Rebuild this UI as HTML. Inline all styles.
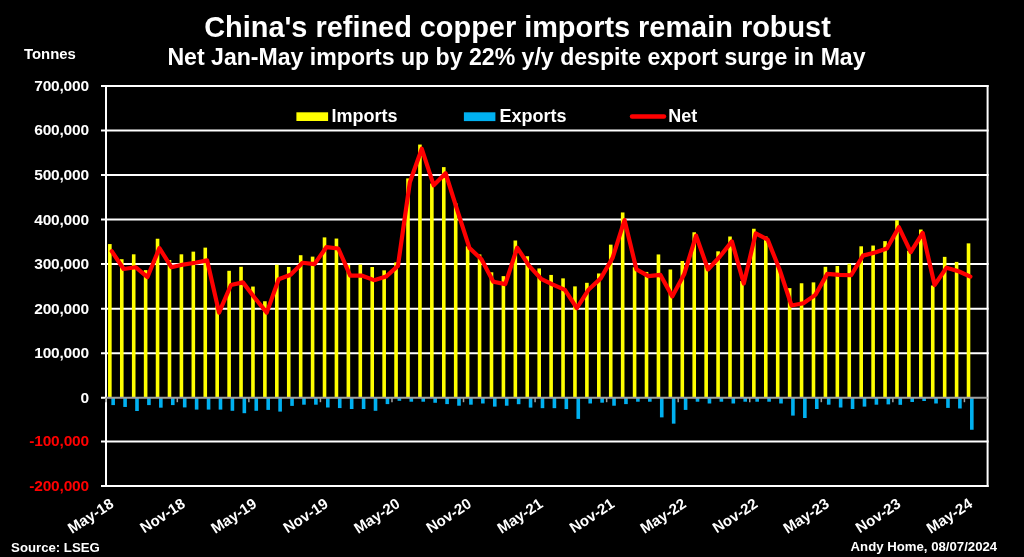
<!DOCTYPE html>
<html><head><meta charset="utf-8"><style>
html,body{margin:0;padding:0;background:#000;width:1024px;height:557px;overflow:hidden}
svg{display:block;will-change:transform}
#w{width:1024px;height:557px}
</style></head><body><div id="w">
<svg width="1024" height="557" viewBox="0 0 1024 557" font-family='"Liberation Sans", sans-serif' font-weight="bold">
<rect x="0" y="0" width="1024" height="557" fill="#000"/>
<text x="517.5" y="36.7" fill="#fff" font-size="28.9" text-anchor="middle">China's refined copper imports remain robust</text>
<text x="516.5" y="64.8" fill="#fff" font-size="23.1" text-anchor="middle">Net Jan-May imports up by 22% y/y despite export surge in May</text>
<text x="24" y="59" fill="#fff" font-size="14.9">Tonnes</text>
<line x1="101" y1="85.90" x2="988.60" y2="85.90" stroke="#fff" stroke-width="2"/>
<text x="88.9" y="90.90" fill="#fff" font-size="15.5" letter-spacing="-0.2" text-anchor="end">700,000</text>
<line x1="101" y1="130.45" x2="988.60" y2="130.45" stroke="#fff" stroke-width="2"/>
<text x="88.9" y="135.45" fill="#fff" font-size="15.5" letter-spacing="-0.2" text-anchor="end">600,000</text>
<line x1="101" y1="175.00" x2="988.60" y2="175.00" stroke="#fff" stroke-width="2"/>
<text x="88.9" y="180.00" fill="#fff" font-size="15.5" letter-spacing="-0.2" text-anchor="end">500,000</text>
<line x1="101" y1="219.55" x2="988.60" y2="219.55" stroke="#fff" stroke-width="2"/>
<text x="88.9" y="224.55" fill="#fff" font-size="15.5" letter-spacing="-0.2" text-anchor="end">400,000</text>
<line x1="101" y1="264.10" x2="988.60" y2="264.10" stroke="#fff" stroke-width="2"/>
<text x="88.9" y="269.10" fill="#fff" font-size="15.5" letter-spacing="-0.2" text-anchor="end">300,000</text>
<line x1="101" y1="308.65" x2="988.60" y2="308.65" stroke="#fff" stroke-width="2"/>
<text x="88.9" y="313.65" fill="#fff" font-size="15.5" letter-spacing="-0.2" text-anchor="end">200,000</text>
<line x1="101" y1="353.20" x2="988.60" y2="353.20" stroke="#fff" stroke-width="2"/>
<text x="88.9" y="358.20" fill="#fff" font-size="15.5" letter-spacing="-0.2" text-anchor="end">100,000</text>
<line x1="101" y1="397.75" x2="106" y2="397.75" stroke="#fff" stroke-width="2"/>
<text x="88.9" y="402.75" fill="#fff" font-size="15.5" letter-spacing="-0.2" text-anchor="end">0</text>
<line x1="101" y1="441.40" x2="988.60" y2="441.40" stroke="#fff" stroke-width="2"/>
<text x="88.9" y="446.40" fill="#ff0000" font-size="15.5" letter-spacing="-0.2" text-anchor="end">-100,000</text>
<line x1="101" y1="486.00" x2="988.60" y2="486.00" stroke="#fff" stroke-width="2"/>
<text x="88.9" y="491.00" fill="#ff0000" font-size="15.5" letter-spacing="-0.2" text-anchor="end">-200,000</text>
<line x1="106" y1="84.90" x2="106" y2="487.00" stroke="#fff" stroke-width="2"/>
<line x1="987.60" y1="84.90" x2="987.60" y2="487.00" stroke="#fff" stroke-width="2"/>
<rect x="108.05" y="244.07" width="3.6" height="153.63" fill="#ffff00"/>
<rect x="111.35" y="397.70" width="3.6" height="7.39" fill="#00b0f0"/>
<rect x="119.98" y="259.21" width="3.6" height="138.49" fill="#ffff00"/>
<rect x="123.28" y="397.70" width="3.6" height="9.26" fill="#00b0f0"/>
<rect x="131.90" y="254.31" width="3.6" height="143.39" fill="#ffff00"/>
<rect x="135.20" y="397.70" width="3.6" height="13.31" fill="#00b0f0"/>
<rect x="143.83" y="270.12" width="3.6" height="127.58" fill="#ffff00"/>
<rect x="147.13" y="397.70" width="3.6" height="7.39" fill="#00b0f0"/>
<rect x="155.75" y="238.73" width="3.6" height="158.97" fill="#ffff00"/>
<rect x="159.05" y="397.70" width="3.6" height="9.97" fill="#00b0f0"/>
<rect x="167.68" y="260.10" width="3.6" height="137.60" fill="#ffff00"/>
<rect x="170.98" y="397.70" width="3.6" height="7.39" fill="#00b0f0"/>
<rect x="179.61" y="254.31" width="3.6" height="143.39" fill="#ffff00"/>
<rect x="182.91" y="397.70" width="3.6" height="9.71" fill="#00b0f0"/>
<rect x="191.53" y="251.64" width="3.6" height="146.06" fill="#ffff00"/>
<rect x="194.83" y="397.70" width="3.6" height="11.89" fill="#00b0f0"/>
<rect x="203.46" y="247.63" width="3.6" height="150.07" fill="#ffff00"/>
<rect x="206.76" y="397.70" width="3.6" height="11.89" fill="#00b0f0"/>
<rect x="215.38" y="305.52" width="3.6" height="92.18" fill="#ffff00"/>
<rect x="218.68" y="397.70" width="3.6" height="11.89" fill="#00b0f0"/>
<rect x="227.31" y="270.79" width="3.6" height="126.91" fill="#ffff00"/>
<rect x="230.61" y="397.70" width="3.6" height="13.09" fill="#00b0f0"/>
<rect x="239.24" y="266.78" width="3.6" height="130.92" fill="#ffff00"/>
<rect x="242.54" y="397.70" width="3.6" height="15.50" fill="#00b0f0"/>
<rect x="251.16" y="286.55" width="3.6" height="111.15" fill="#ffff00"/>
<rect x="254.46" y="397.70" width="3.6" height="13.09" fill="#00b0f0"/>
<rect x="263.09" y="301.25" width="3.6" height="96.45" fill="#ffff00"/>
<rect x="266.39" y="397.70" width="3.6" height="12.20" fill="#00b0f0"/>
<rect x="275.01" y="264.73" width="3.6" height="132.97" fill="#ffff00"/>
<rect x="278.31" y="397.70" width="3.6" height="13.89" fill="#00b0f0"/>
<rect x="286.94" y="266.92" width="3.6" height="130.78" fill="#ffff00"/>
<rect x="290.24" y="397.70" width="3.6" height="8.19" fill="#00b0f0"/>
<rect x="298.87" y="255.20" width="3.6" height="142.50" fill="#ffff00"/>
<rect x="302.17" y="397.70" width="3.6" height="6.99" fill="#00b0f0"/>
<rect x="310.79" y="256.63" width="3.6" height="141.07" fill="#ffff00"/>
<rect x="314.09" y="397.70" width="3.6" height="6.99" fill="#00b0f0"/>
<rect x="322.72" y="237.39" width="3.6" height="160.31" fill="#ffff00"/>
<rect x="326.02" y="397.70" width="3.6" height="9.80" fill="#00b0f0"/>
<rect x="334.64" y="238.55" width="3.6" height="159.15" fill="#ffff00"/>
<rect x="337.94" y="397.70" width="3.6" height="10.38" fill="#00b0f0"/>
<rect x="346.57" y="265.00" width="3.6" height="132.70" fill="#ffff00"/>
<rect x="349.87" y="397.70" width="3.6" height="11.31" fill="#00b0f0"/>
<rect x="358.50" y="264.56" width="3.6" height="133.14" fill="#ffff00"/>
<rect x="361.80" y="397.70" width="3.6" height="11.31" fill="#00b0f0"/>
<rect x="370.42" y="267.00" width="3.6" height="130.70" fill="#ffff00"/>
<rect x="373.72" y="397.70" width="3.6" height="13.09" fill="#00b0f0"/>
<rect x="382.35" y="270.34" width="3.6" height="127.36" fill="#ffff00"/>
<rect x="385.65" y="397.70" width="3.6" height="6.41" fill="#00b0f0"/>
<rect x="394.27" y="262.33" width="3.6" height="135.37" fill="#ffff00"/>
<rect x="397.57" y="397.70" width="3.6" height="3.12" fill="#00b0f0"/>
<rect x="406.20" y="178.39" width="3.6" height="219.31" fill="#ffff00"/>
<rect x="409.50" y="397.70" width="3.6" height="4.01" fill="#00b0f0"/>
<rect x="418.13" y="144.55" width="3.6" height="253.15" fill="#ffff00"/>
<rect x="421.43" y="397.70" width="3.6" height="4.01" fill="#00b0f0"/>
<rect x="430.05" y="183.51" width="3.6" height="214.19" fill="#ffff00"/>
<rect x="433.35" y="397.70" width="3.6" height="5.08" fill="#00b0f0"/>
<rect x="441.98" y="167.12" width="3.6" height="230.58" fill="#ffff00"/>
<rect x="445.28" y="397.70" width="3.6" height="6.41" fill="#00b0f0"/>
<rect x="453.90" y="203.28" width="3.6" height="194.42" fill="#ffff00"/>
<rect x="457.20" y="397.70" width="3.6" height="8.02" fill="#00b0f0"/>
<rect x="465.83" y="246.30" width="3.6" height="151.40" fill="#ffff00"/>
<rect x="469.13" y="397.70" width="3.6" height="6.99" fill="#00b0f0"/>
<rect x="477.76" y="254.45" width="3.6" height="143.25" fill="#ffff00"/>
<rect x="481.06" y="397.70" width="3.6" height="5.79" fill="#00b0f0"/>
<rect x="489.68" y="272.30" width="3.6" height="125.40" fill="#ffff00"/>
<rect x="492.98" y="397.70" width="3.6" height="8.91" fill="#00b0f0"/>
<rect x="501.61" y="276.13" width="3.6" height="121.57" fill="#ffff00"/>
<rect x="504.91" y="397.70" width="3.6" height="8.02" fill="#00b0f0"/>
<rect x="513.53" y="240.51" width="3.6" height="157.19" fill="#ffff00"/>
<rect x="516.83" y="397.70" width="3.6" height="6.50" fill="#00b0f0"/>
<rect x="525.46" y="256.23" width="3.6" height="141.47" fill="#ffff00"/>
<rect x="528.76" y="397.70" width="3.6" height="9.89" fill="#00b0f0"/>
<rect x="537.39" y="268.43" width="3.6" height="129.27" fill="#ffff00"/>
<rect x="540.69" y="397.70" width="3.6" height="10.46" fill="#00b0f0"/>
<rect x="549.31" y="274.93" width="3.6" height="122.77" fill="#ffff00"/>
<rect x="552.61" y="397.70" width="3.6" height="10.46" fill="#00b0f0"/>
<rect x="561.24" y="278.36" width="3.6" height="119.34" fill="#ffff00"/>
<rect x="564.54" y="397.70" width="3.6" height="11.40" fill="#00b0f0"/>
<rect x="573.16" y="286.38" width="3.6" height="111.32" fill="#ffff00"/>
<rect x="576.46" y="397.70" width="3.6" height="21.20" fill="#00b0f0"/>
<rect x="585.09" y="282.81" width="3.6" height="114.89" fill="#ffff00"/>
<rect x="588.39" y="397.70" width="3.6" height="5.79" fill="#00b0f0"/>
<rect x="597.02" y="273.46" width="3.6" height="124.24" fill="#ffff00"/>
<rect x="600.32" y="397.70" width="3.6" height="4.99" fill="#00b0f0"/>
<rect x="608.94" y="244.65" width="3.6" height="153.05" fill="#ffff00"/>
<rect x="612.24" y="397.70" width="3.6" height="8.02" fill="#00b0f0"/>
<rect x="620.87" y="212.46" width="3.6" height="185.24" fill="#ffff00"/>
<rect x="624.17" y="397.70" width="3.6" height="6.41" fill="#00b0f0"/>
<rect x="632.79" y="267.23" width="3.6" height="130.47" fill="#ffff00"/>
<rect x="636.09" y="397.70" width="3.6" height="4.01" fill="#00b0f0"/>
<rect x="644.72" y="271.90" width="3.6" height="125.80" fill="#ffff00"/>
<rect x="648.02" y="397.70" width="3.6" height="4.01" fill="#00b0f0"/>
<rect x="656.65" y="254.45" width="3.6" height="143.25" fill="#ffff00"/>
<rect x="659.95" y="397.70" width="3.6" height="19.68" fill="#00b0f0"/>
<rect x="668.57" y="269.50" width="3.6" height="128.20" fill="#ffff00"/>
<rect x="671.87" y="397.70" width="3.6" height="25.96" fill="#00b0f0"/>
<rect x="680.50" y="260.99" width="3.6" height="136.71" fill="#ffff00"/>
<rect x="683.80" y="397.70" width="3.6" height="12.20" fill="#00b0f0"/>
<rect x="692.42" y="232.27" width="3.6" height="165.43" fill="#ffff00"/>
<rect x="695.72" y="397.70" width="3.6" height="4.01" fill="#00b0f0"/>
<rect x="704.35" y="265.00" width="3.6" height="132.70" fill="#ffff00"/>
<rect x="707.65" y="397.70" width="3.6" height="5.79" fill="#00b0f0"/>
<rect x="716.28" y="251.33" width="3.6" height="146.37" fill="#ffff00"/>
<rect x="719.58" y="397.70" width="3.6" height="4.01" fill="#00b0f0"/>
<rect x="728.20" y="236.50" width="3.6" height="161.20" fill="#ffff00"/>
<rect x="731.50" y="397.70" width="3.6" height="5.79" fill="#00b0f0"/>
<rect x="740.13" y="281.03" width="3.6" height="116.67" fill="#ffff00"/>
<rect x="743.43" y="397.70" width="3.6" height="4.01" fill="#00b0f0"/>
<rect x="752.05" y="228.75" width="3.6" height="168.95" fill="#ffff00"/>
<rect x="755.35" y="397.70" width="3.6" height="4.01" fill="#00b0f0"/>
<rect x="763.98" y="236.50" width="3.6" height="161.20" fill="#ffff00"/>
<rect x="767.28" y="397.70" width="3.6" height="4.01" fill="#00b0f0"/>
<rect x="775.91" y="265.89" width="3.6" height="131.81" fill="#ffff00"/>
<rect x="779.21" y="397.70" width="3.6" height="5.79" fill="#00b0f0"/>
<rect x="787.83" y="288.16" width="3.6" height="109.54" fill="#ffff00"/>
<rect x="791.13" y="397.70" width="3.6" height="17.90" fill="#00b0f0"/>
<rect x="799.76" y="283.26" width="3.6" height="114.44" fill="#ffff00"/>
<rect x="803.06" y="397.70" width="3.6" height="20.31" fill="#00b0f0"/>
<rect x="811.68" y="282.37" width="3.6" height="115.33" fill="#ffff00"/>
<rect x="814.98" y="397.70" width="3.6" height="11.31" fill="#00b0f0"/>
<rect x="823.61" y="266.78" width="3.6" height="130.92" fill="#ffff00"/>
<rect x="826.91" y="397.70" width="3.6" height="6.99" fill="#00b0f0"/>
<rect x="835.54" y="266.02" width="3.6" height="131.68" fill="#ffff00"/>
<rect x="838.84" y="397.70" width="3.6" height="9.80" fill="#00b0f0"/>
<rect x="847.46" y="263.66" width="3.6" height="134.04" fill="#ffff00"/>
<rect x="850.76" y="397.70" width="3.6" height="11.31" fill="#00b0f0"/>
<rect x="859.39" y="246.30" width="3.6" height="151.40" fill="#ffff00"/>
<rect x="862.69" y="397.70" width="3.6" height="8.91" fill="#00b0f0"/>
<rect x="871.31" y="245.54" width="3.6" height="152.16" fill="#ffff00"/>
<rect x="874.61" y="397.70" width="3.6" height="6.99" fill="#00b0f0"/>
<rect x="883.24" y="241.13" width="3.6" height="156.57" fill="#ffff00"/>
<rect x="886.54" y="397.70" width="3.6" height="6.68" fill="#00b0f0"/>
<rect x="895.17" y="220.16" width="3.6" height="177.54" fill="#ffff00"/>
<rect x="898.47" y="397.70" width="3.6" height="7.12" fill="#00b0f0"/>
<rect x="907.09" y="250.75" width="3.6" height="146.95" fill="#ffff00"/>
<rect x="910.39" y="397.70" width="3.6" height="4.27" fill="#00b0f0"/>
<rect x="919.02" y="229.51" width="3.6" height="168.19" fill="#ffff00"/>
<rect x="922.32" y="397.70" width="3.6" height="3.30" fill="#00b0f0"/>
<rect x="930.94" y="285.48" width="3.6" height="112.22" fill="#ffff00"/>
<rect x="934.24" y="397.70" width="3.6" height="5.79" fill="#00b0f0"/>
<rect x="942.87" y="256.85" width="3.6" height="140.85" fill="#ffff00"/>
<rect x="946.17" y="397.70" width="3.6" height="10.20" fill="#00b0f0"/>
<rect x="954.80" y="261.88" width="3.6" height="135.82" fill="#ffff00"/>
<rect x="958.10" y="397.70" width="3.6" height="10.78" fill="#00b0f0"/>
<rect x="966.72" y="243.36" width="3.6" height="154.34" fill="#ffff00"/>
<rect x="970.02" y="397.70" width="3.6" height="32.06" fill="#00b0f0"/>
<line x1="106" y1="397.70" x2="987.60" y2="397.70" stroke="#a0a0a0" stroke-width="2"/>
<line x1="105.75" y1="397.70" x2="105.75" y2="402.20" stroke="#a0a0a0" stroke-width="1.5"/>
<line x1="177.31" y1="397.70" x2="177.31" y2="402.20" stroke="#a0a0a0" stroke-width="1.5"/>
<line x1="248.86" y1="397.70" x2="248.86" y2="402.20" stroke="#a0a0a0" stroke-width="1.5"/>
<line x1="320.42" y1="397.70" x2="320.42" y2="402.20" stroke="#a0a0a0" stroke-width="1.5"/>
<line x1="391.97" y1="397.70" x2="391.97" y2="402.20" stroke="#a0a0a0" stroke-width="1.5"/>
<line x1="463.53" y1="397.70" x2="463.53" y2="402.20" stroke="#a0a0a0" stroke-width="1.5"/>
<line x1="535.09" y1="397.70" x2="535.09" y2="402.20" stroke="#a0a0a0" stroke-width="1.5"/>
<line x1="606.64" y1="397.70" x2="606.64" y2="402.20" stroke="#a0a0a0" stroke-width="1.5"/>
<line x1="678.20" y1="397.70" x2="678.20" y2="402.20" stroke="#a0a0a0" stroke-width="1.5"/>
<line x1="749.75" y1="397.70" x2="749.75" y2="402.20" stroke="#a0a0a0" stroke-width="1.5"/>
<line x1="821.31" y1="397.70" x2="821.31" y2="402.20" stroke="#a0a0a0" stroke-width="1.5"/>
<line x1="892.87" y1="397.70" x2="892.87" y2="402.20" stroke="#a0a0a0" stroke-width="1.5"/>
<line x1="964.42" y1="397.70" x2="964.42" y2="402.20" stroke="#a0a0a0" stroke-width="1.5"/>
<polyline points="111.71,251.20 123.64,269.01 135.56,267.23 147.49,277.02 159.42,248.08 171.34,267.23 183.27,264.56 195.19,262.77 207.12,260.32 219.05,312.65 230.97,285.04 242.90,282.37 254.82,297.95 266.75,312.65 278.68,279.25 290.60,274.80 302.53,262.77 314.46,264.11 326.38,247.19 338.31,248.52 350.23,275.69 362.16,275.69 374.08,280.14 386.01,276.58 397.94,265.89 409.86,182.17 421.79,148.78 433.72,185.29 445.64,173.27 457.57,211.12 469.49,248.08 481.42,259.21 493.35,281.70 505.27,284.15 517.20,247.63 529.12,265.89 541.05,278.80 552.98,284.59 564.90,289.94 576.83,308.19 588.75,289.49 600.68,278.36 612.61,257.88 624.53,220.03 636.46,269.45 648.38,276.13 660.31,274.80 672.24,296.39 684.16,274.35 696.09,235.61 708.01,269.45 719.94,256.54 731.87,241.40 743.79,283.48 755.72,233.38 767.64,239.62 779.57,269.45 791.50,305.52 803.42,303.30 815.35,294.84 827.27,273.91 839.20,274.80 851.12,275.24 863.05,255.65 874.98,252.53 886.90,248.52 898.83,227.15 910.75,252.09 922.68,232.94 934.61,285.04 946.53,267.67 958.46,271.23 970.38,276.58" fill="none" stroke="#ff0000" stroke-width="4.2" stroke-linejoin="round" stroke-linecap="round"/>
<rect x="296.4" y="112.3" width="31.7" height="8.7" fill="#ffff00"/>
<text x="331.6" y="121.8" fill="#fff" font-size="18">Imports</text>
<rect x="463.9" y="112.3" width="31.5" height="8.8" fill="#00b0f0"/>
<text x="499.5" y="121.8" fill="#fff" font-size="18">Exports</text>
<line x1="632" y1="116.5" x2="664" y2="116.5" stroke="#ff0000" stroke-width="4.4" stroke-linecap="round"/>
<text x="668.2" y="121.8" fill="#fff" font-size="18">Net</text>
<text transform="translate(114.71,506.30) rotate(-33)" x="0" y="0" fill="#fff" font-size="15" text-anchor="end">May-18</text>
<text transform="translate(186.27,506.30) rotate(-33)" x="0" y="0" fill="#fff" font-size="15" text-anchor="end">Nov-18</text>
<text transform="translate(257.82,506.30) rotate(-33)" x="0" y="0" fill="#fff" font-size="15" text-anchor="end">May-19</text>
<text transform="translate(329.38,506.30) rotate(-33)" x="0" y="0" fill="#fff" font-size="15" text-anchor="end">Nov-19</text>
<text transform="translate(400.94,506.30) rotate(-33)" x="0" y="0" fill="#fff" font-size="15" text-anchor="end">May-20</text>
<text transform="translate(472.49,506.30) rotate(-33)" x="0" y="0" fill="#fff" font-size="15" text-anchor="end">Nov-20</text>
<text transform="translate(544.05,506.30) rotate(-33)" x="0" y="0" fill="#fff" font-size="15" text-anchor="end">May-21</text>
<text transform="translate(615.61,506.30) rotate(-33)" x="0" y="0" fill="#fff" font-size="15" text-anchor="end">Nov-21</text>
<text transform="translate(687.16,506.30) rotate(-33)" x="0" y="0" fill="#fff" font-size="15" text-anchor="end">May-22</text>
<text transform="translate(758.72,506.30) rotate(-33)" x="0" y="0" fill="#fff" font-size="15" text-anchor="end">Nov-22</text>
<text transform="translate(830.27,506.30) rotate(-33)" x="0" y="0" fill="#fff" font-size="15" text-anchor="end">May-23</text>
<text transform="translate(901.83,506.30) rotate(-33)" x="0" y="0" fill="#fff" font-size="15" text-anchor="end">Nov-23</text>
<text transform="translate(973.38,506.30) rotate(-33)" x="0" y="0" fill="#fff" font-size="15" text-anchor="end">May-24</text>
<text x="11.1" y="551.7" fill="#fff" font-size="13.2">Source: LSEG</text>
<text x="997.2" y="550.7" fill="#fff" font-size="13.2" text-anchor="end">Andy Home, 08/07/2024</text>
</svg>
</div></body></html>
